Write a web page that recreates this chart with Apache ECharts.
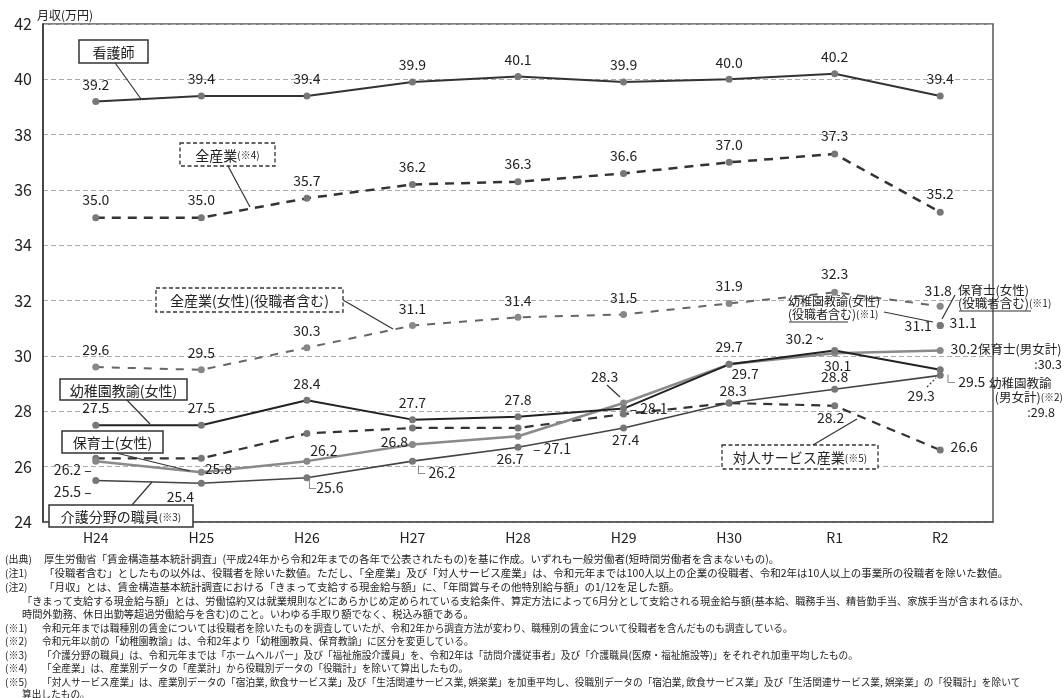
<!DOCTYPE html>
<html><head><meta charset="utf-8">
<script src="https://cdn.jsdelivr.net/npm/echarts@6/dist/echarts.min.js"></script>
<style>html,body{margin:0;padding:0;background:#fff}#c{width:1064px;height:698px}</style>
</head><body><div id="c"></div>
<script>
// ---------- data ----------
const categories = ['H24','H25','H26','H27','H28','H29','H30','R1','R2'];
const yMin = 24, yMax = 42, yStep = 2;
const nurse = [39.2,39.4,39.4,39.9,40.1,39.9,40.0,40.2,39.4];
const allIndustry = [35.0,35.0,35.7,36.2,36.3,36.6,37.0,37.3,35.2];
const allIndustryFemale = [29.6,29.5,30.3,31.1,31.4,31.5,31.9,32.3,31.8];
const kinderFemale = [27.5,27.5,28.4,27.7,27.8,28.1,29.7,30.2,29.5];
const nurseryFemale = [26.2,25.8,26.2,26.8,27.1,28.3,29.7,30.1,30.2];
const careWorkers = [25.5,25.4,25.6,26.2,26.7,27.4,28.3,28.8,29.3];
const personalService = [26.3,26.3,27.2,27.4,27.4,27.9,28.3,28.2,26.6];
const kinderFemaleInclMgr = [null,null,null,null,null,null,null,null,31.1];
const nurseryFemaleInclMgr = [null,null,null,null,null,null,null,null,31.1];

// ---------- label placement (style only) ----------
const L = (dx,dy,t) => ({o:[dx,dy], t:t||'{v}'});
const T = L(0,-17);
const lblNurse = Array(9).fill(T);
const lblAll = Array(9).fill(L(0,-18));
const lblFemale = [T,T,T,T,T,T,L(0,-18),L(0,-19),L(-2,-16)];
const lblKinder = [T,T,T,T,T,L(25,0,'– {v}'),L(0,-18),L(-30,-12,'{v} ~'),L(23,12,'└ {v}')];
const lblNursery = [L(-23,9,'{v} –'),L(17,-4),L(17,-10),L(-18,-3),L(34,12,'– {v}'),L(-19,-26),L(16,9),L(3,12),L(24,-2)];
const lblCare = [L(-23,11,'{v} –'),L(-21,13),L(16,10,'└{v}'),L(21,12,'└ {v}'),L(-8,11),L(2,12),L(4,-12),L(0,-13),L(-19,20)];
const lblService = [null,null,null,null,null,null,null,L(-4,12),L(24,-3)];
const lblKinderMgr = [null,null,null,null,null,null,null,null,L(-22,0)];
const lblNurseryMgr = [null,null,null,null,null,null,null,null,L(23,-3)];

const FONT = '"Noto Sans CJK JP","Noto Sans",sans-serif';

function mk(values, specs){
  return values.map((v,i)=>{
    if(v==null) return '-';
    const s = specs[i];
    const item = {value:v};
    if(s){
      item.label = {show:true, position:'inside', offset:s.o, align:'center', verticalAlign:'middle',
        formatter: s.t.replace('{v}', v.toFixed(1)), fontSize:14, color:'#222', fontFamily:FONT};
    }
    return item;
  });
}
function line(name, values, specs, color, width, dash, symColor){
  return {
    name, type:'line', data: mk(values, specs), symbol:'circle', symbolSize:7,
    itemStyle:{color: symColor||'#777'},
    lineStyle:{color, width, type: dash||'solid'},
    label:{show:false}, emphasis:{disabled:true}, z:3
  };
}

// ---------- annotations ----------
const G = [];
function box(x,y,w,h,text,dashed){
  G.push({type:'rect', z:100, shape:{x,y,width:w,height:h},
    style:{fill:'#fff', stroke:'#333', lineWidth:dashed?1.3:1.5, lineDash:dashed?[4,2.5]:null}});
  G.push({type:'text', z:101, x:x+w/2, y:y+h/2+1,
    style:{text, align:'center', verticalAlign:'middle', fontFamily:FONT, fill:'#222',
      rich:{a:{fontSize:14, fontFamily:FONT, fill:'#222'}, b:{fontSize:10, fontFamily:FONT, fill:'#222'}}}});
}
function seg(x1,y1,x2,y2,dash){
  G.push({type:'line', z:99, shape:{x1,y1,x2,y2}, style:{stroke:'#333', lineWidth:1.2, lineDash:dash||null}});
}
function txt(x,y,text,opt){
  opt = opt||{};
  G.push({type:'text', z:101, x, y, style:{text, align:opt.align||'left', verticalAlign:'middle',
    fontFamily:FONT, fontSize:opt.size||13, fill:'#222',
    rich:{a:{fontSize:opt.size||13, fontFamily:FONT, fill:'#222'}, b:{fontSize:10, fontFamily:FONT, fill:'#222'}}}});
}

seg(113,60,141,99); box(79,40,69,23,'{a|看護師}');
seg(228,166,250,207); box(180,143,95,23,'{a|全産業}{b|(※4)}',true);
seg(343,300,393,329); box(156,288,187,24,'{a|全産業(女性)(役職者含む)}',true);
seg(125,398,150,424); box(60,379,127,21,'{a|幼稚園教諭(女性)}');
seg(112,452,190,471); box(62,431,101,22,'{a|保育士(女性)}');
seg(132,505,152,482); box(49,505,144,22,'{a|介護分野の職員}{b|(※3)}');
seg(813,445,857,419); box(722,445,156,24,'{a|対人サービス産業}{b|(※5)}',true);

// R2 side notes
txt(788,301,'幼稚園教諭(女性)',{size:12});
txt(788,314,'{a|(役職者含む)}{b|(※1)}',{size:12});
seg(789,322,848,322);
seg(884,312,933,322);
txt(958,290,'保育士(女性)',{size:12.5});
txt(958,303,'{a|(役職者含む)}{b|(※1)}',{size:12.5});
seg(959,311,1031,311);
seg(955,295,942,319);
txt(978,349,'保育士(男女計)',{size:12.5});
txt(1062,364,':30.3',{size:12.5, align:'right'});
txt(989,383,'幼稚園教諭',{size:12.5});
txt(1063,397,'{a|(男女計)}{b|(※2)}',{size:12.5, align:'right'});
txt(1055,412,':29.8',{size:12.5, align:'right'});
seg(607,385,620,397);
seg(927,387,936,378,[2,2]);

// axis name
txt(37,15,'月収(万円)',{size:12});

// notes: [prefixX, y, prefix, bodyX, body, fontSize]
const notes = [
  [5,559,'(出典)',44,'厚生労働省「賃金構造基本統計調査」(平成24年から令和2年までの各年で公表されたもの)を基に作成。いずれも一般労働者(短時間労働者を含まないもの)。',10.5],
  [5,573,'(注1)',44,'「役職者含む」としたもの以外は、役職者を除いた数値。ただし、「全産業」及び「対人サービス産業」は、令和元年までは100人以上の企業の役職者、令和2年は10人以上の事業所の役職者を除いた数値。',10.5],
  [5,587,'(注2)',44,'「月収」とは、賃金構造基本統計調査における「きまって支給する現金給与額」に、「年間賞与その他特別給与額」の1/12を足した額。',10.5],
  [null,601,'',22,'「きまって支給する現金給与額」とは、労働協約又は就業規則などにあらかじめ定められている支給条件、算定方法によって6月分として支給される現金給与額(基本給、職務手当、精皆勤手当、家族手当が含まれるほか、',10.2],
  [null,614,'',22,'時間外勤務、休日出勤等超過労働給与を含む)のこと。いわゆる手取り額でなく、税込み額である。',10.2],
  [5,628,'(※1)',42,'令和元年までは職種別の賃金については役職者を除いたものを調査していたが、令和2年から調査方法が変わり、職種別の賃金について役職者を含んだものも調査している。',9.7],
  [5,641,'(※2)',42,'令和元年以前の「幼稚園教諭」は、令和2年より「幼稚園教員、保育教諭」に区分を変更している。',9.7],
  [5,655,'(※3)',42,'「介護分野の職員」は、令和元年までは「ホームヘルパー」及び「福祉施設介護員」を、令和2年は「訪問介護従事者」及び「介護職員(医療・福祉施設等)」をそれぞれ加重平均したもの。',9.7],
  [5,668,'(※4)',42,'「全産業」は、産業別データの「産業計」から役職別データの「役職計」を除いて算出したもの。',9.7],
  [5,682,'(※5)',42,'「対人サービス産業」は、産業別データの「宿泊業, 飲食サービス業」及び「生活関連サービス業, 娯楽業」を加重平均し、役職別データの「宿泊業, 飲食サービス業」及び「生活関連サービス業, 娯楽業」の「役職計」を除いて',9.7],
  [null,694,'',22,'算出したもの。',9.7]
];
notes.forEach(n=>{
  if(n[0]!=null) G.push({type:'text', z:101, x:n[0], y:n[1], style:{text:n[2], fontFamily:FONT, fontSize:10, fill:'#222', verticalAlign:'middle'}});
  G.push({type:'text', z:101, x:n[3], y:n[1], style:{text:n[4], fontFamily:FONT, fontSize:n[5], fill:'#222', verticalAlign:'middle'}});
});

const chart = echarts.init(document.getElementById('c'), null, {renderer:'canvas'});
chart.setOption({
  animation:false,
  backgroundColor:'#fff',
  grid:{left:43, right:71, top:24, bottom:176, show:true, borderColor:'#555', borderWidth:1.5, backgroundColor:'transparent'},
  xAxis:{type:'category', data:categories, boundaryGap:true,
    axisLine:{show:true, lineStyle:{color:'#555', width:1.5}}, axisTick:{show:false},
    axisLabel:{fontSize:14, color:'#222', fontFamily:FONT, margin:9}},
  yAxis:{type:'value', min:yMin, max:yMax, interval:yStep,
    axisLine:{show:true, lineStyle:{color:'#333', width:1.5}}, axisTick:{show:false},
    axisLabel:{fontSize:16, color:'#222', fontFamily:FONT, margin:11},
    splitLine:{show:true, lineStyle:{color:'#aaa', width:1, type:[5,3]}}},
  series:[
    line('看護師', nurse, lblNurse, '#333', 2),
    line('全産業(※4)', allIndustry, lblAll, '#333', 2.5, [9,7]),
    line('全産業(女性)(役職者含む)', allIndustryFemale, lblFemale, '#666', 2, [8,8], '#888'),
    line('対人サービス産業(※5)', personalService, lblService, '#333', 2.2, [9,7]),
    line('介護分野の職員(※3)', careWorkers, lblCare, '#444', 1.6),
    line('保育士(女性)', nurseryFemale, lblNursery, '#8a8a8a', 2.5, null, '#888'),
    line('幼稚園教諭(女性)', kinderFemale, lblKinder, '#222', 2),
    line('幼稚園教諭(女性)(役職者含む)', kinderFemaleInclMgr, lblKinderMgr, '#333', 1),
    line('保育士(女性)(役職者含む)', nurseryFemaleInclMgr, lblNurseryMgr, '#333', 1)
  ],
  graphic:G
});
</script></body></html>
